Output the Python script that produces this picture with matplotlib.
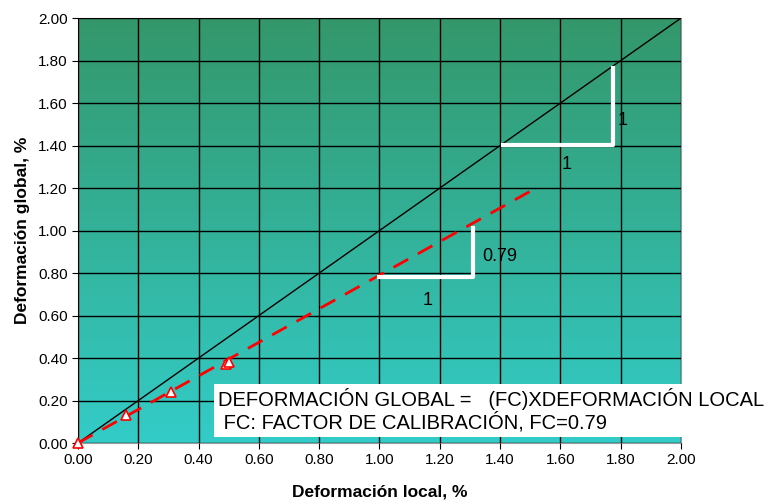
import numpy as np
import matplotlib.pyplot as plt
from matplotlib.colors import LinearSegmentedColormap

plt.rcParams['font.family'] = ['Liberation Sans', 'DejaVu Sans']

# measured points (local vs global strain, %)
local_def = [0.0, 0.16, 0.31, 0.49, 0.50]
global_def = [0.0, 0.13, 0.24, 0.37, 0.38]

fc = 0.79
fit_x = [0.0, 1.5]
ref_x = [0.0, 2.0]

ticks = [0.0, 0.2, 0.4, 0.6, 0.8, 1.0, 1.2, 1.4, 1.6, 1.8, 2.0]
tick_labels = ['%.2f' % t for t in ticks]

# slope triangles
tri_lo_x = [1.0, 1.31, 1.31]
tri_lo_y = [0.78, 0.78, 1.01]
tri_hi_x = [1.41, 1.775, 1.775]
tri_hi_y = [1.405, 1.405, 1.765]

fig = plt.figure(figsize=(7.68, 5.04), dpi=100)
ax = fig.add_axes([0.1016, 0.121, 0.785, 0.843])

cmap = LinearSegmentedColormap.from_list('bg', ['#33CCC8', '#34976A'])
grad = np.linspace(0, 1, 256).reshape(-1, 1)
ax.imshow(grad, extent=[0, 2, 0, 2], origin='lower', cmap=cmap, aspect='auto', zorder=0)

ax.set_xlim(0, 2)
ax.set_ylim(0, 2)
ax.set_xticks(ticks)
ax.set_yticks(ticks)
ax.set_xticklabels(tick_labels, fontsize=11)
ax.set_yticklabels(tick_labels, fontsize=11)
ax.grid(True, color='black', linewidth=1, zorder=1)
ax.set_axisbelow(False)
ax.tick_params(direction='out', length=4, color='black')
for s in ax.spines.values():
    s.set_color('#999999')
    s.set_zorder(2)

ax.plot(ref_x, ref_x, color='black', linewidth=1, zorder=3)
ax.plot(fit_x, [fc * v for v in fit_x], color='red', linestyle=(0, (6, 4)), linewidth=2, zorder=3)
ax.plot(local_def, global_def, linestyle='none', marker='^', markersize=7,
        markerfacecolor='white', markeredgecolor='red', markeredgewidth=1.2, zorder=4,
        clip_on=False)

ax.plot(tri_lo_x, tri_lo_y, color='white', linewidth=3, zorder=3)
ax.plot(tri_hi_x, tri_hi_y, color='white', linewidth=3, zorder=3)
ax.text(1.34, 0.88, '0.79', fontsize=13, va='center', ha='left', zorder=5)
ax.text(1.16, 0.67, '1', fontsize=13, va='center', ha='center', zorder=5)
ax.text(1.79, 1.52, '1', fontsize=13, va='center', ha='left', zorder=5)
ax.text(1.62, 1.31, '1', fontsize=13, va='center', ha='center', zorder=5)

ax.text(0.464, 0.153,
        'DEFORMACIÓN GLOBAL =   (FC)XDEFORMACIÓN LOCAL\n FC: FACTOR DE CALIBRACIÓN, FC=0.79',
        fontsize=14.5, va='center', ha='left', linespacing=1.12, zorder=6, clip_on=False,
        bbox=dict(facecolor='white', edgecolor='none', pad=3))

ax.set_xlabel('Deformación local, %', fontsize=12.5, fontweight='bold', labelpad=12)
ax.set_ylabel('Deformación global, %', fontsize=12.5, fontweight='bold', labelpad=6)

fig.savefig('out.png', dpi=100)
